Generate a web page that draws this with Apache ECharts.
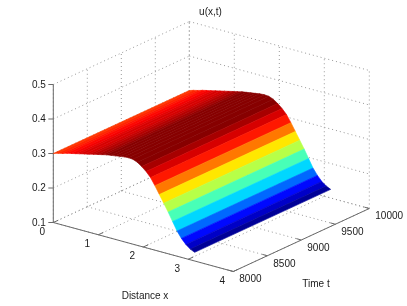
<!DOCTYPE html>
<html><head><meta charset="utf-8">
<style>html,body{margin:0;padding:0;background:#fff}#c{width:407px;height:306px}</style>
<script src="https://cdn.jsdelivr.net/npm/echarts@6/dist/echarts.min.js"></script>
</head><body><div id="c"></div>
<script>
const xTicks = [0, 1, 2, 3, 4];
const tTicks = [8000, 8500, 9000, 9500, 10000];
const zTicks = [0.1, 0.2, 0.3, 0.4, 0.5];
const title = 'u(x,t)';
const xName = 'Distance x';
const tName = 'Time t';
const tRange = [8000, 10000];
const xStep = Math.PI / 32;
const colorLimits = [0.125, 0.34];
// u(x,t) at successive x nodes; nearly steady in t
const uProfile = [.300,.304,.307,.311,.314,.317,.320,.323,.326,.329,.332,.335,.338,.340,.342,.344,.346,.347,.346,.341,.332,.321,.307,.287,.265,.243,.221,.197,.173,.155,.141,.131,.125];

const P = (x, t, z) => [53.3 + 45 * x + 0.068 * (t - 8000), 222.5 + 12.25 * x - 0.0315 * (t - 8000) - 345 * (z - 0.1)];

function jet(v) {
  const q = Math.max(0, Math.min(63, Math.floor(v * 64)));
  const f = (q + 0.5) / 64;
  const c = a => Math.round(255 * Math.max(0, Math.min(1, a)));
  return `rgb(${c(1.5 - Math.abs(4 * f - 3))},${c(1.5 - Math.abs(4 * f - 2))},${c(1.5 - Math.abs(4 * f - 1))})`;
}

const x0 = xTicks[0], x1 = xTicks[xTicks.length - 1];
const t0 = tTicks[0], t1 = tTicks[tTicks.length - 1];
const z0 = zTicks[0], z1 = zTicks[zTicks.length - 1];

const gridSegs = [];
xTicks.forEach(x => { gridSegs.push([P(x, t0, z0), P(x, t1, z0)]); gridSegs.push([P(x, t1, z0), P(x, t1, z1)]); });
tTicks.forEach(t => { gridSegs.push([P(x0, t, z0), P(x1, t, z0)]); gridSegs.push([P(x0, t, z0), P(x0, t, z1)]); });
zTicks.forEach(z => { gridSegs.push([P(x0, t0, z), P(x0, t1, z)]); gridSegs.push([P(x0, t1, z), P(x1, t1, z)]); });

const axisSegs = [
  [P(x0, t0, z0), P(x0, t0, z1)],
  [P(x0, t0, z0), P(x1, t0, z0)],
  [P(x1, t0, z0), P(x1, t1, z0)]
];
zTicks.forEach(z => { const p = P(x0, t0, z); axisSegs.push([p, [p[0] - 5, p[1]]]); });
xTicks.forEach(x => { const p = P(x, t0, z0); axisSegs.push([p, [p[0] + 5, p[1] - 2.3]]); });
tTicks.forEach(t => { const p = P(x1, t, z0); axisSegs.push([p, [p[0] - 5, p[1] - 1.4]]); });

const texts = [];
zTicks.forEach(z => { const p = P(x0, t0, z); texts.push([p[0] - 7.5, p[1] + 0.5, z.toFixed(1), 'right']); });
xTicks.forEach(x => { const p = P(x, t0, z0); texts.push([p[0] - 11, p[1] + 9.5, String(x), 'center']); });
tTicks.forEach(t => { const p = P(x1, t, z0); texts.push([p[0] + 6, p[1] + 8, String(t), 'left']); });
texts.push([210.5, 12.5, title, 'center'], [145, 296, xName, 'center'], [316, 284, tName, 'center']);

const cells = uProfile.slice(0, -1).map((u, i) => [i, u, uProfile[i + 1]]);

const lineItem = (api, seg, style) => ({
  type: 'line',
  shape: { x1: api.coord(seg[0])[0], y1: api.coord(seg[0])[1], x2: api.coord(seg[1])[0], y2: api.coord(seg[1])[1] },
  style
});

const chart = echarts.init(document.getElementById('c'), null, { renderer: 'canvas' });
chart.setOption({
  animation: false,
  backgroundColor: '#fff',
  grid: { left: 0, top: 0, width: 407, height: 306 },
  xAxis: { type: 'value', min: 0, max: 407, show: false },
  yAxis: { type: 'value', min: 0, max: 306, inverse: true, show: false },
  series: [
    {
      type: 'custom', silent: true, clip: false, z: 1,
      data: gridSegs.map((s, i) => [i]),
      renderItem: (p, api) => lineItem(api, gridSegs[api.value(0)], { stroke: '#999', lineWidth: 1, lineDash: [1, 3] })
    },
    {
      type: 'custom', silent: true, clip: false, z: 2,
      data: axisSegs.map((s, i) => [i]),
      renderItem: (p, api) => lineItem(api, axisSegs[api.value(0)], { stroke: '#6a6a6a', lineWidth: 1 })
    },
    {
      type: 'custom', silent: true, clip: false, z: 3,
      data: cells,
      renderItem: (p, api) => {
        const i = api.value(0), ua = api.value(1), ub = api.value(2);
        const xa = i * xStep, xb = (i + 1) * xStep;
        const pts = [P(xa, tRange[0], ua), P(xb, tRange[0], ub), P(xb, tRange[1], ub), P(xa, tRange[1], ua)].map(q => api.coord(q));
        const col = jet((ua - colorLimits[0]) / (colorLimits[1] - colorLimits[0]));
        return { type: 'polygon', shape: { points: pts }, style: { fill: col, stroke: col, lineWidth: 0.6 } };
      }
    },
    {
      type: 'custom', silent: true, clip: false, z: 4,
      data: texts.map((s, i) => [i]),
      renderItem: (p, api) => {
        const t = texts[api.value(0)], c = api.coord([t[0], t[1]]);
        return { type: 'text', x: c[0], y: c[1], style: { text: t[2], fill: '#1a1a1a', font: '10px "Liberation Sans", Arial, sans-serif', align: t[3], verticalAlign: 'middle' } };
      }
    }
  ]
});
</script></body></html>
